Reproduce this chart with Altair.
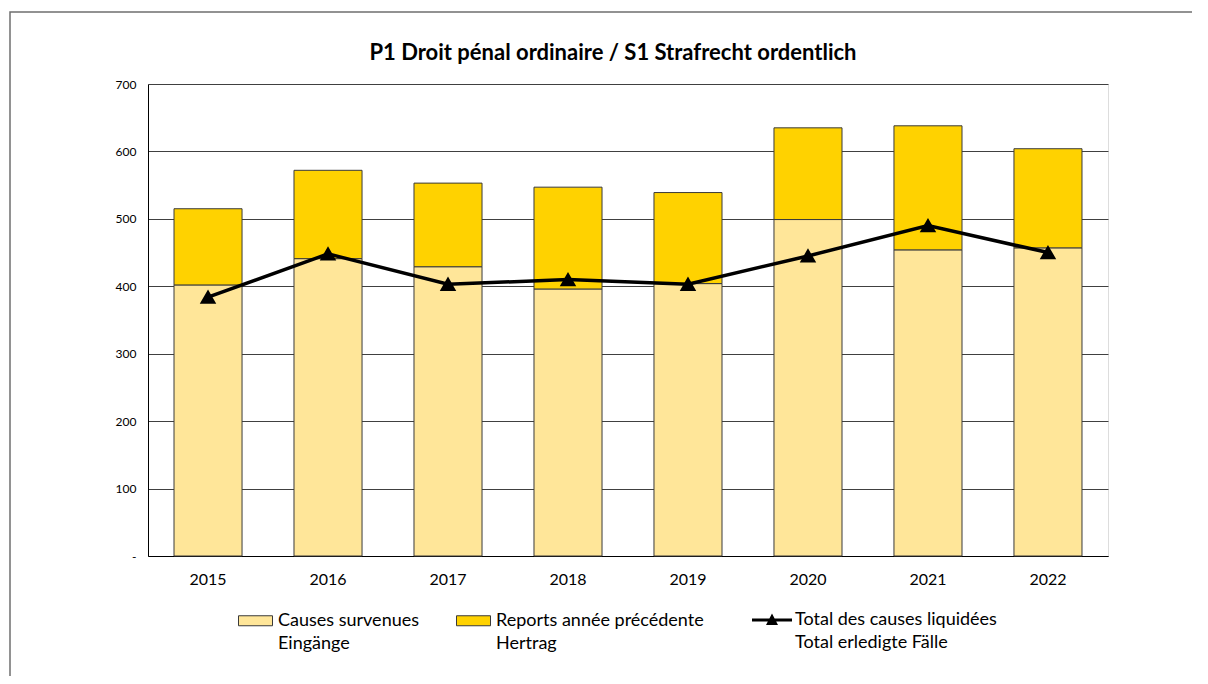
import altair as alt
import pandas as pd

years = ["2015", "2016", "2017", "2018", "2019", "2020", "2021", "2022"]
causes = [402, 441, 429, 396, 404, 499, 454, 457]
reports = [113, 131, 124, 151, 135, 136, 184, 147]
liquidees = [384, 448, 403, 410, 403, 445, 490, 450]

title_text = "P1 Droit pénal ordinaire / S1 Strafrecht ordentlich"
s_causes = "Causes survenues|Eingänge"
s_reports = "Reports année précédente|Hertrag"
s_total = "Total des causes liquidées|Total erledigte Fälle"

rows = []
for y, c, r in zip(years, causes, reports):
    rows.append({"year": y, "series": s_causes, "value": c, "ord": 0})
    rows.append({"year": y, "series": s_reports, "value": r, "ord": 1})
bars_df = pd.DataFrame(rows)
line_df = pd.DataFrame({"year": years, "value": liquidees, "series": [s_total] * len(years)})

FONT = "Lato"

x_enc = alt.X("year:N", title=None,
              scale=alt.Scale(paddingInner=0.433, paddingOuter=0.2167),
              axis=alt.Axis(labelAngle=0, labelFontSize=16, labelFont=FONT, labelColor="#000",
                            ticks=False, domainColor="#000", labelPadding=15, grid=False))

bars = alt.Chart(bars_df).mark_bar(stroke="#3a3a3a", strokeWidth=1).encode(
    x=x_enc,
    y=alt.Y("value:Q", stack="zero", title=None,
            scale=alt.Scale(domain=[0, 700], nice=False),
            axis=alt.Axis(values=[0, 100, 200, 300, 400, 500, 600, 700],
                          labelExpr="datum.value == 0 ? '-' : datum.label",
                          labelFontSize=12, labelFont=FONT, labelColor="#000",
                          ticks=False, labelPadding=12, domainColor="#000",
                          gridColor="#404040", gridWidth=1)),
    fill=alt.Fill("series:N",
                  scale=alt.Scale(domain=[s_causes, s_reports], range=["#FFE699", "#FFD200"]),
                  legend=alt.Legend(title=None, orient="none", direction="horizontal",
                                    legendX=90, legendY=526,
                                    labelExpr="split(datum.label, '|')",
                                    labelFont=FONT, labelFontSize=18, labelColor="#000",
                                    labelLimit=400, labelOffset=19, columnPadding=34,
                                    symbolType="M-1,-0.5H2.4V0.5H-1Z", symbolSize=400,
                                    symbolStrokeColor="#3a3a3a", symbolStrokeWidth=1,
                                    labelBaseline="middle")),
    order=alt.Order("ord:Q"),
)

line = alt.Chart(line_df).mark_line(
    strokeWidth=3.5,
    point=alt.OverlayMarkDef(shape="triangle-up", size=170, filled=True, color="#000"),
).encode(
    x=alt.X("year:N"),
    y=alt.Y("value:Q"),
    stroke=alt.Stroke("series:N", scale=alt.Scale(domain=[s_total], range=["#000"]),
                      legend=alt.Legend(title=None, orient="none", direction="horizontal",
                                        legendX=604, legendY=526,
                                        labelExpr="split(datum.label, '|')",
                                        labelFont=FONT, labelFontSize=18, labelColor="#000",
                                        labelLimit=400, labelOffset=23,
                                        symbolType="M-1,-0.15H3V0.15H-1Z M0.4,0.5L1,-0.65L1.6,0.5Z",
                                        symbolSize=400, symbolFillColor="#000",
                                        symbolStrokeWidth=0, labelBaseline="middle")),
)

frame = alt.Chart(pd.DataFrame({"a": [0]})).mark_rect(
    fill=None, stroke="#6f6f6f", strokeWidth=1.5
).encode(x=alt.value(-138), x2=alt.value(1100), y=alt.value(-72), y2=alt.value(640))

title = alt.Chart(pd.DataFrame({"t": [title_text]})).mark_text(
    font=FONT, fontSize=22, fontWeight="bold", color="#000", align="center", baseline="alphabetic"
).encode(x=alt.value(465), y=alt.value(-24), text="t:N")

chart = alt.layer(frame, title, bars, line).resolve_scale(fill="independent").properties(
    width=960, height=472,
    autosize=alt.AutoSizeParams(type="none"),
    padding={"left": 140, "top": 76, "right": 84, "bottom": 120},
).configure_view(stroke=None).configure_axis(labelFont=FONT).configure(
    style={"guide-label": {"lineHeight": 23}}
)

chart.save("out.html", embed_options={"renderer": "svg", "actions": False})
